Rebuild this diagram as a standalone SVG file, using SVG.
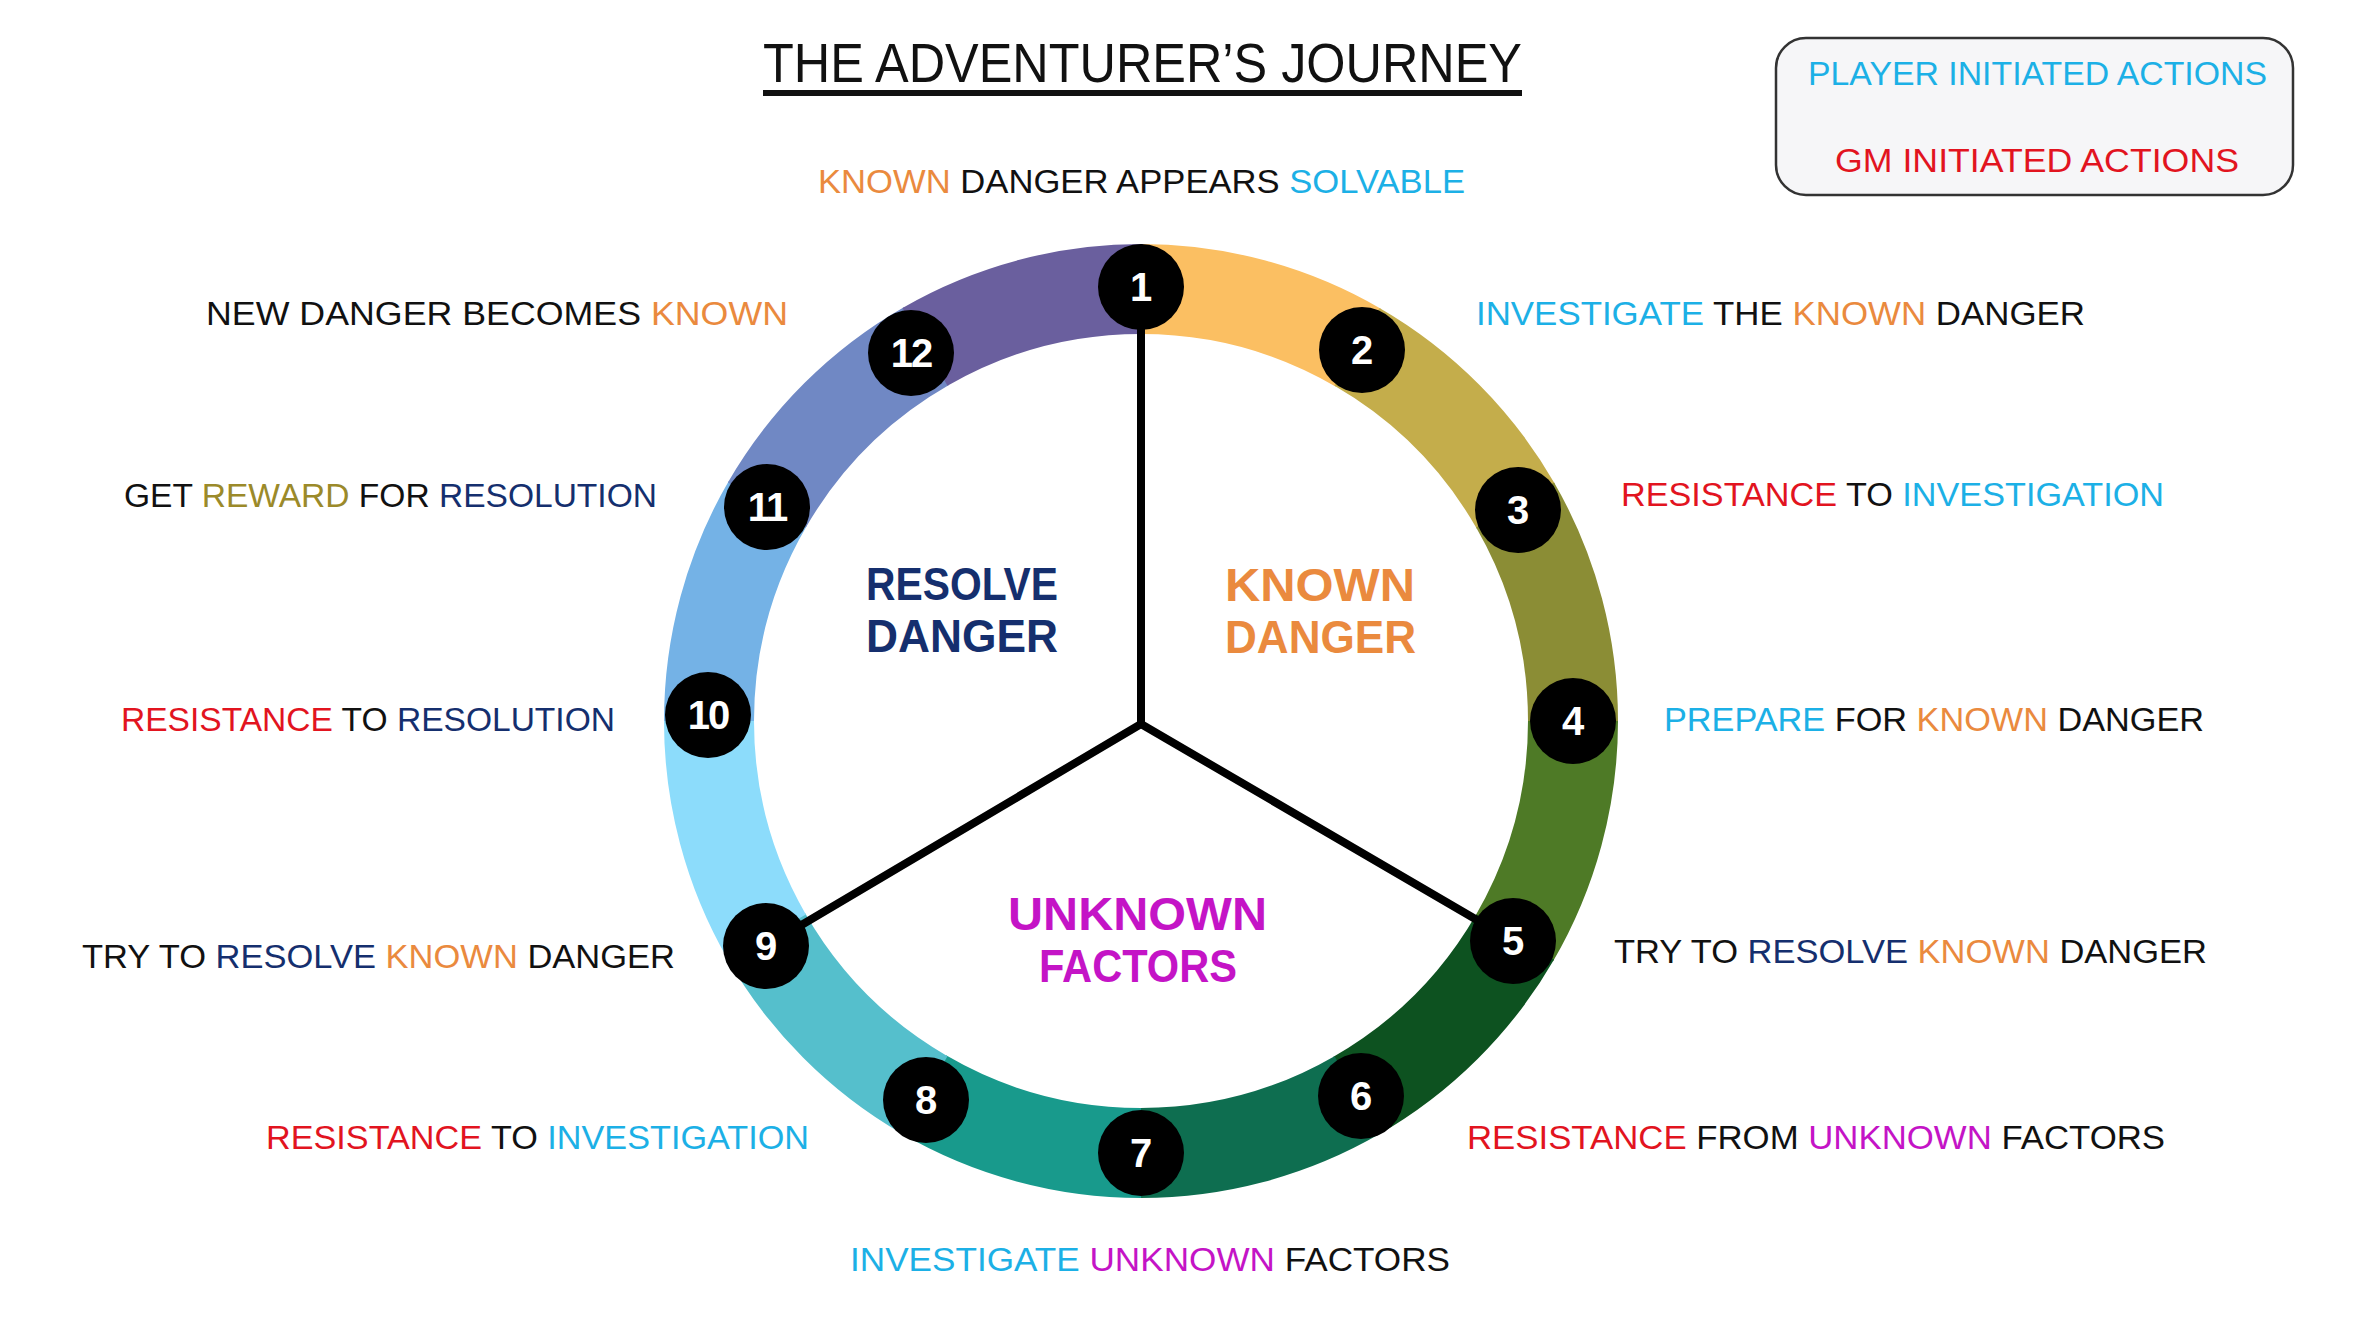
<svg xmlns="http://www.w3.org/2000/svg" width="2354" height="1322" viewBox="0 0 2354 1322">
<style>
text { font-family: "Liberation Sans", Arial, sans-serif; }
.lbl { font-size: 33px; fill: #111; }
.b { fill: #1cb0e6; } .r { fill: #e2141f; } .o { fill: #ea8a3e; } .n { fill: #152f6e; } .g { fill: #9b8a2a; } .m { fill: #c414c6; }
.seg { fill: none; stroke-width: 90; stroke-dasharray: 228 2500; }
.node circle { fill: #000; }
.node text { font-size: 40px; font-weight: bold; fill: #fff; text-anchor: middle; }
.hub { font-size: 46px; font-weight: bold; }
.spoke { stroke: #000; stroke-width: 8; stroke-linecap: round; }
.leg { font-size: 33px; }
</style>
<rect width="2354" height="1322" fill="#fff"/>

<g id="title">
<text x="763" y="82" font-size="56" fill="#111" textLength="759" lengthAdjust="spacingAndGlyphs">THE ADVENTURER’S JOURNEY</text>
<rect x="763" y="90" width="759" height="6" fill="#111"/>
</g>

<g id="legend">
<rect x="1776" y="38" width="517" height="157" rx="30" fill="#f6f6f8" stroke="#333" stroke-width="2.5"/>
<text class="leg b" x="1808" y="85" textLength="459" lengthAdjust="spacingAndGlyphs">PLAYER INITIATED ACTIONS</text>
<text class="leg r" x="1835" y="172" textLength="404" lengthAdjust="spacingAndGlyphs">GM INITIATED ACTIONS</text>
</g>

<g id="ring">
<circle class="seg" cx="1141" cy="721" r="432" stroke="#fbbf62" transform="rotate(-90 1141 721)"/>
<circle class="seg" cx="1141" cy="721" r="432" stroke="#c4ad4b" transform="rotate(-60 1141 721)"/>
<circle class="seg" cx="1141" cy="721" r="432" stroke="#8b8d35" transform="rotate(-30 1141 721)"/>
<circle class="seg" cx="1141" cy="721" r="432" stroke="#4e7a26" transform="rotate(0 1141 721)"/>
<circle class="seg" cx="1141" cy="721" r="432" stroke="#0d5220" transform="rotate(30 1141 721)"/>
<circle class="seg" cx="1141" cy="721" r="432" stroke="#0e6e50" transform="rotate(60 1141 721)"/>
<circle class="seg" cx="1141" cy="721" r="432" stroke="#189a8c" transform="rotate(90 1141 721)"/>
<circle class="seg" cx="1141" cy="721" r="432" stroke="#55bfcc" transform="rotate(120 1141 721)"/>
<circle class="seg" cx="1141" cy="721" r="432" stroke="#8cdcfb" transform="rotate(150 1141 721)"/>
<circle class="seg" cx="1141" cy="721" r="432" stroke="#74b2e6" transform="rotate(180 1141 721)"/>
<circle class="seg" cx="1141" cy="721" r="432" stroke="#7088c4" transform="rotate(210 1141 721)"/>
<circle class="seg" cx="1141" cy="721" r="432" stroke="#6a5f9e" transform="rotate(240 1141 721)"/>
</g>

<g id="connectors">
<line class="spoke" x1="1141" y1="724" x2="1141" y2="287"/>
<line class="spoke" x1="1141" y1="724" x2="1513" y2="941"/>
<line class="spoke" x1="1141" y1="724" x2="766" y2="946"/>
</g>

<g id="n1" class="node"><circle cx="1141" cy="287" r="43"/><text x="1141" y="301">1</text></g>
<g id="n2" class="node"><circle cx="1362" cy="350" r="43"/><text x="1362" y="364">2</text></g>
<g id="n3" class="node"><circle cx="1518" cy="510" r="43"/><text x="1518" y="524">3</text></g>
<g id="n4" class="node"><circle cx="1573" cy="721" r="43"/><text x="1573" y="735">4</text></g>
<g id="n5" class="node"><circle cx="1513" cy="941" r="43"/><text x="1513" y="955">5</text></g>
<g id="n6" class="node"><circle cx="1361" cy="1096" r="43"/><text x="1361" y="1110">6</text></g>
<g id="n7" class="node"><circle cx="1141" cy="1153" r="43"/><text x="1141" y="1167">7</text></g>
<g id="n8" class="node"><circle cx="926" cy="1100" r="43"/><text x="926" y="1114">8</text></g>
<g id="n9" class="node"><circle cx="766" cy="946" r="43"/><text x="766" y="960">9</text></g>
<g id="n10" class="node"><circle cx="708" cy="715" r="43"/><text x="708" y="729" letter-spacing="-2">10</text></g>
<g id="n11" class="node"><circle cx="767" cy="507" r="43"/><text x="767" y="521" letter-spacing="-2">11</text></g>
<g id="n12" class="node"><circle cx="911" cy="353" r="43"/><text x="911" y="367" letter-spacing="-2">12</text></g>

<g id="hubs">
<text class="hub n" x="866" y="600" textLength="192" lengthAdjust="spacingAndGlyphs">RESOLVE</text>
<text class="hub n" x="866" y="652" textLength="192" lengthAdjust="spacingAndGlyphs">DANGER</text>
<text class="hub o" x="1225" y="601" textLength="190" lengthAdjust="spacingAndGlyphs">KNOWN</text>
<text class="hub o" x="1225" y="653" textLength="191" lengthAdjust="spacingAndGlyphs">DANGER</text>
<text class="hub m" x="1008" y="930" textLength="259" lengthAdjust="spacingAndGlyphs">UNKNOWN</text>
<text class="hub m" x="1039" y="982" textLength="198" lengthAdjust="spacingAndGlyphs">FACTORS</text>
</g>

<g id="labels">
<text class="lbl" x="818" y="193" textLength="647" lengthAdjust="spacingAndGlyphs"><tspan class="o">KNOWN</tspan> DANGER APPEARS <tspan class="b">SOLVABLE</tspan></text>
<text class="lbl" x="1476" y="325" textLength="609" lengthAdjust="spacingAndGlyphs"><tspan class="b">INVESTIGATE</tspan> THE <tspan class="o">KNOWN</tspan> DANGER</text>
<text class="lbl" x="1621" y="506" textLength="543" lengthAdjust="spacingAndGlyphs"><tspan class="r">RESISTANCE</tspan> TO <tspan class="b">INVESTIGATION</tspan></text>
<text class="lbl" x="1664" y="731" textLength="540" lengthAdjust="spacingAndGlyphs"><tspan class="b">PREPARE</tspan> FOR <tspan class="o">KNOWN</tspan> DANGER</text>
<text class="lbl" x="1614" y="963" textLength="593" lengthAdjust="spacingAndGlyphs">TRY TO <tspan class="n">RESOLVE</tspan> <tspan class="o">KNOWN</tspan> DANGER</text>
<text class="lbl" x="1467" y="1149" textLength="698" lengthAdjust="spacingAndGlyphs"><tspan class="r">RESISTANCE</tspan> FROM <tspan class="m">UNKNOWN</tspan> FACTORS</text>
<text class="lbl" x="850" y="1271" textLength="600" lengthAdjust="spacingAndGlyphs"><tspan class="b">INVESTIGATE</tspan> <tspan class="m">UNKNOWN</tspan> FACTORS</text>
<text class="lbl" x="266" y="1149" textLength="543" lengthAdjust="spacingAndGlyphs"><tspan class="r">RESISTANCE</tspan> TO <tspan class="b">INVESTIGATION</tspan></text>
<text class="lbl" x="82" y="968" textLength="593" lengthAdjust="spacingAndGlyphs">TRY TO <tspan class="n">RESOLVE</tspan> <tspan class="o">KNOWN</tspan> DANGER</text>
<text class="lbl" x="121" y="731" textLength="494" lengthAdjust="spacingAndGlyphs"><tspan class="r">RESISTANCE</tspan> TO <tspan class="n">RESOLUTION</tspan></text>
<text class="lbl" x="124" y="507" textLength="533" lengthAdjust="spacingAndGlyphs">GET <tspan class="g">REWARD</tspan> FOR <tspan class="n">RESOLUTION</tspan></text>
<text class="lbl" x="206" y="325" textLength="582" lengthAdjust="spacingAndGlyphs">NEW DANGER BECOMES <tspan class="o">KNOWN</tspan></text>
</g>
</svg>
